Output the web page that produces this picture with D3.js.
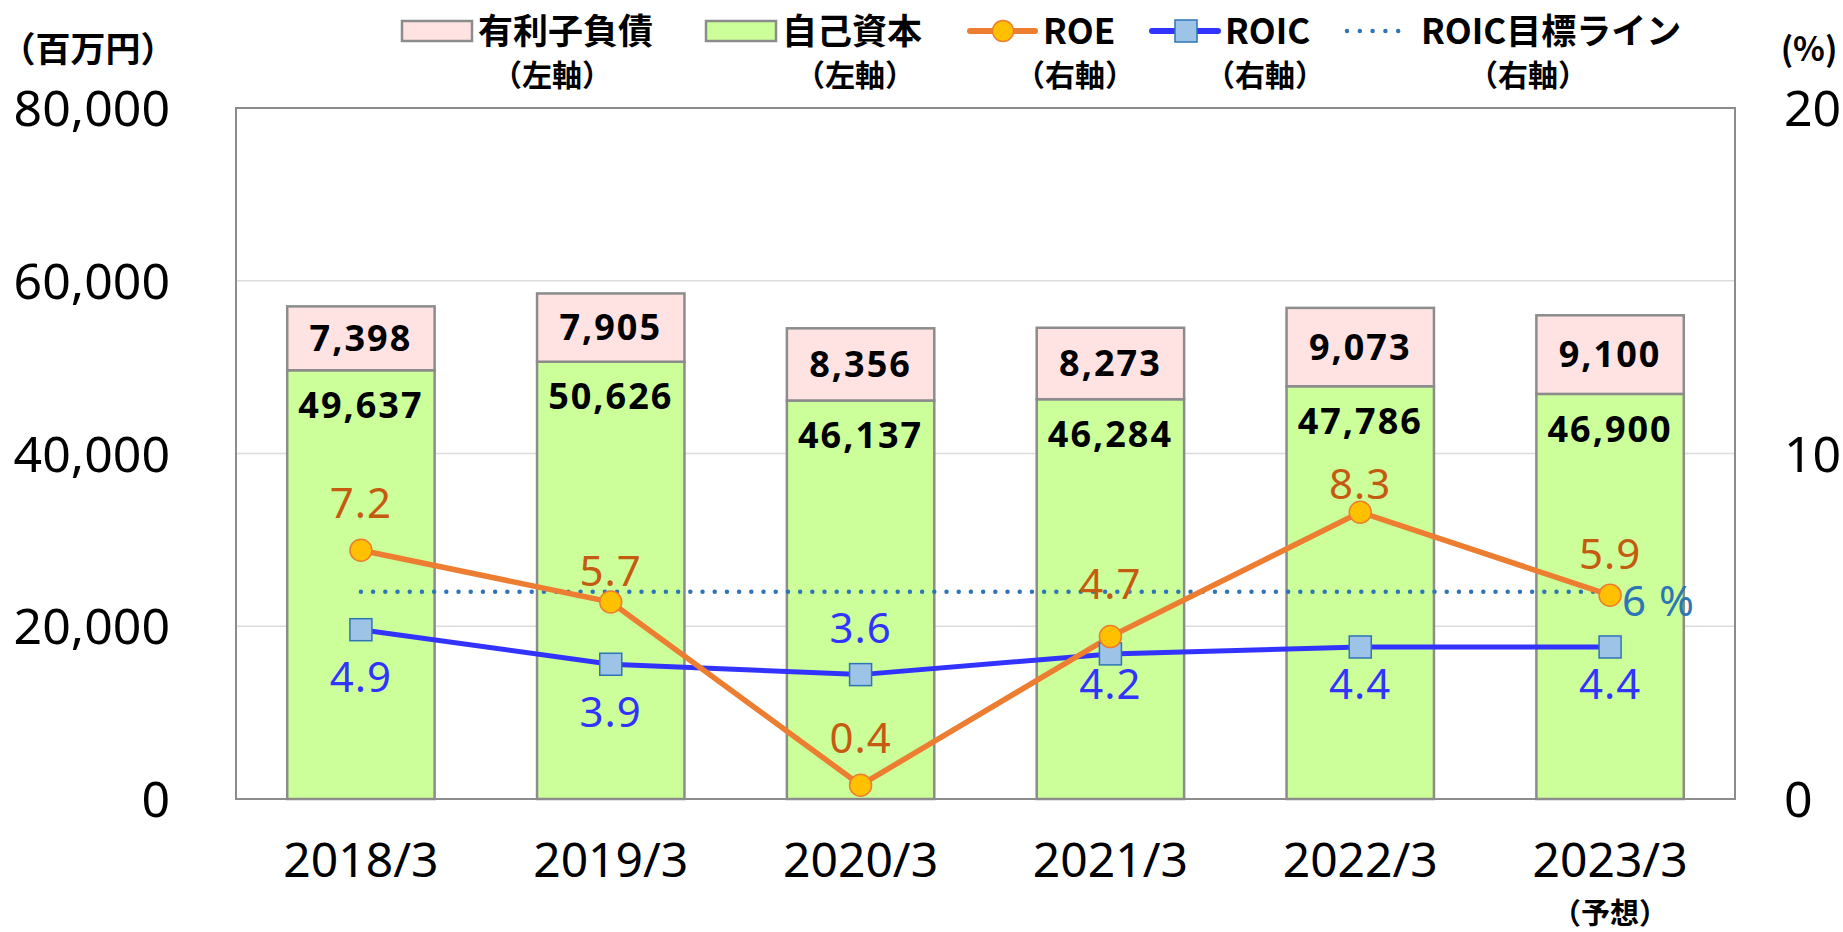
<!DOCTYPE html>
<html lang="ja">
<head>
<meta charset="utf-8">
<script src="https://cdn.jsdelivr.net/npm/d3@7"></script>
<style>
  html, body { margin: 0; padding: 0; background: #fff; }
  svg { display: block; }
  text { font-family: "Noto Sans", "Noto Sans CJK JP", sans-serif; }
  .jp { font-family: "Noto Sans CJK JP", sans-serif; font-weight: 700; }
</style>
</head>
<body>
<div id="chart"></div>
<script>
// Data
const years = ["2018/3", "2019/3", "2020/3", "2021/3", "2022/3", "2023/3"];
const equity = [49637, 50626, 46137, 46284, 47786, 46900];   // 自己資本
const debt = [7398, 7905, 8356, 8273, 9073, 9100];           // 有利子負債
const roe = [7.2, 5.7, 0.4, 4.7, 8.3, 5.9];
const roic = [4.9, 3.9, 3.6, 4.2, 4.4, 4.4];
const roicTarget = 6;
const leftTicks = [0, 20000, 40000, 60000, 80000];
const rightTicks = [0, 10, 20];

// Layout
const W = 1843, H = 932;
const PLOT = { left: 236, right: 1735, top: 108, bottom: 799 };
// label nudges (px, label centre relative to marker)
const ROE_DY = [-47, -31, -47, -52, -28, -41];
const ROIC_DY = [48, 48, -46, 30, 37, 37];

const C = {
  debt: "#FFE3E3", equity: "#CCFF99", border: "#8C8C8C", grid: "#DCDCDC",
  roe: "#ED7D31", roeMarker: "#FFC000", roeLabel: "#C55A11",
  roic: "#3333FF", roicMarker: "#9DC3E6", roicEdge: "#2E75B6", target: "#2E75B6"
};

const svg = d3.select("#chart").append("svg")
  .attr("width", W).attr("height", H)
  .attr("viewBox", `0 0 ${W} ${H}`);

const x = d3.scaleBand().domain(years).range([PLOT.left, PLOT.right]).paddingInner(0.41).paddingOuter(0.205);
const yL = d3.scaleLinear().domain([0, 80000]).range([PLOT.bottom, PLOT.top]);
const yR = d3.scaleLinear().domain([0, 20]).range([PLOT.bottom, PLOT.top]);
const cx = d => x(d) + x.bandwidth() / 2;
const fmt = d3.format(",");

// gridlines
svg.append("g")
  .selectAll("line")
  .data(leftTicks.filter(t => t > 0 && t < 80000))
  .join("line")
  .attr("x1", PLOT.left).attr("x2", PLOT.right)
  .attr("y1", d => yL(d)).attr("y2", d => yL(d))
  .attr("stroke", C.grid).attr("stroke-width", 1.5);

// left axis
const leftAxis = svg.append("g")
  .attr("transform", `translate(${PLOT.left - 66},0)`)
  .call(d3.axisLeft(yL).tickValues(leftTicks).tickFormat(fmt).tickSize(0).tickPadding(0))
  .call(g => g.select(".domain").remove());
leftAxis.selectAll("text")
  .attr("font-family", "Noto Sans").attr("font-size", 50).attr("fill", "#000")
  .attr("dy", "0.35em");

// right axis
const rightAxis = svg.append("g")
  .attr("transform", `translate(${PLOT.right + 49},0)`)
  .call(d3.axisRight(yR).tickValues(rightTicks).tickSize(0).tickPadding(0))
  .call(g => g.select(".domain").remove());
rightAxis.selectAll("text")
  .attr("font-family", "Noto Sans").attr("font-size", 50).attr("fill", "#000")
  .attr("dy", "0.35em");

// x axis labels
const xAxis = svg.append("g")
  .attr("transform", `translate(0,${PLOT.bottom + 61})`)
  .call(d3.axisBottom(x).tickSize(0).tickPadding(0))
  .call(g => g.select(".domain").remove());
xAxis.selectAll("text")
  .attr("font-family", "Noto Sans").attr("font-size", 48).attr("fill", "#000")
  .attr("dy", "0.35em");
svg.append("text").attr("class", "jp")
  .attr("x", cx(years[5])).attr("y", 914).attr("dy", "0.36em")
  .attr("text-anchor", "middle").attr("font-size", 29)
  .text("（予想）");

// axis units
svg.append("text").attr("class", "jp")
  .attr("x", 88).attr("y", 49).attr("dy", "0.36em")
  .attr("text-anchor", "middle").attr("font-size", 35)
  .text("（百万円）");
svg.append("text").attr("class", "jp")
  .attr("x", 1809).attr("y", 49).attr("dy", "0.36em")
  .attr("text-anchor", "middle").attr("font-size", 33)
  .text("(%)");

// stacked bars
const rows = years.map((y, i) => ({ year: y, equity: equity[i], debt: debt[i] }));
const stacked = d3.stack().keys(["equity", "debt"])(rows);

svg.append("g")
  .selectAll("g")
  .data(stacked)
  .join("g")
  .attr("fill", d => C[d.key])
  .selectAll("rect")
  .data(d => d)
  .join("rect")
  .attr("x", d => x(d.data.year))
  .attr("width", x.bandwidth())
  .attr("y", d => yL(d[1]))
  .attr("height", d => yL(d[0]) - yL(d[1]))
  .attr("stroke", C.border).attr("stroke-width", 2.5);

// bar labels
svg.append("g")
  .selectAll("text")
  .data(rows)
  .join("text")
  .attr("x", d => cx(d.year))
  .attr("y", d => (yL(d.equity) + yL(d.equity + d.debt)) / 2)
  .attr("dy", "0.35em")
  .attr("text-anchor", "middle")
  .attr("font-size", 36).attr("font-weight", 700).attr("letter-spacing", 2)
  .text(d => fmt(d.debt));

svg.append("g")
  .selectAll("text")
  .data(rows)
  .join("text")
  .attr("x", d => cx(d.year))
  .attr("y", d => yL(d.equity) + 35)
  .attr("dy", "0.35em")
  .attr("text-anchor", "middle")
  .attr("font-size", 36).attr("font-weight", 700).attr("letter-spacing", 2)
  .text(d => fmt(d.equity));

// plot frame
svg.append("rect")
  .attr("x", PLOT.left).attr("y", PLOT.top)
  .attr("width", PLOT.right - PLOT.left).attr("height", PLOT.bottom - PLOT.top)
  .attr("fill", "none").attr("stroke", C.border).attr("stroke-width", 2);

// ROIC target line
svg.append("line")
  .attr("x1", cx(years[0])).attr("x2", cx(years[5]))
  .attr("y1", yR(roicTarget)).attr("y2", yR(roicTarget))
  .attr("stroke", C.target).attr("stroke-width", 4.5)
  .attr("stroke-linecap", "round").attr("stroke-dasharray", "0 12.2");
svg.append("text")
  .attr("x", cx(years[5]) + 12).attr("y", yR(roicTarget) + 10).attr("dy", "0.35em")
  .attr("font-size", 42).attr("fill", C.target).attr("letter-spacing", 1)
  .text(roicTarget + " %");

// ROIC line
const roicPts = years.map((y, i) => ({ year: y, v: roic[i], dy: ROIC_DY[i] }));
const roePts = years.map((y, i) => ({ year: y, v: roe[i], dy: ROE_DY[i] }));

svg.append("path")
  .datum(roicPts)
  .attr("fill", "none").attr("stroke", C.roic).attr("stroke-width", 5)
  .attr("d", d3.line().x(d => cx(d.year)).y(d => yR(d.v)));

// ROE line
svg.append("path")
  .datum(roePts)
  .attr("fill", "none").attr("stroke", C.roe).attr("stroke-width", 5.5)
  .attr("d", d3.line().x(d => cx(d.year)).y(d => yR(d.v)));

svg.append("g")
  .selectAll("rect")
  .data(roicPts)
  .join("rect")
  .attr("x", d => cx(d.year) - 11).attr("y", d => yR(d.v) - 11)
  .attr("width", 22).attr("height", 22)
  .attr("fill", C.roicMarker).attr("stroke", C.roicEdge).attr("stroke-width", 1.5);

svg.append("g")
  .selectAll("circle")
  .data(roePts)
  .join("circle")
  .attr("cx", d => cx(d.year)).attr("cy", d => yR(d.v)).attr("r", 11)
  .attr("fill", C.roeMarker).attr("stroke", C.roe).attr("stroke-width", 1.5);

// line labels
svg.append("g")
  .selectAll("text")
  .data(roePts)
  .join("text")
  .attr("x", d => cx(d.year)).attr("y", d => yR(d.v) + d.dy).attr("dy", "0.35em")
  .attr("text-anchor", "middle").attr("font-size", 42).attr("letter-spacing", 1)
  .attr("fill", C.roeLabel)
  .text(d => d.v.toFixed(1));

svg.append("g")
  .selectAll("text")
  .data(roicPts)
  .join("text")
  .attr("x", d => cx(d.year)).attr("y", d => yR(d.v) + d.dy).attr("dy", "0.35em")
  .attr("text-anchor", "middle").attr("font-size", 42).attr("letter-spacing", 1)
  .attr("fill", C.roic)
  .text(d => d.v.toFixed(1));

// Legend
const legendItems = [
  { name: "有利子負債", sub: "（左軸）", type: "box", fill: C.debt, x: 402, subX: 552 },
  { name: "自己資本", sub: "（左軸）", type: "box", fill: C.equity, x: 706, subX: 855 },
  { name: "ROE", sub: "（右軸）", type: "circle", x: 967, subX: 1075 },
  { name: "ROIC", sub: "（右軸）", type: "square", x: 1149, subX: 1265 },
  { name: "ROIC目標ライン", sub: "（右軸）", type: "dots", x: 1345, subX: 1528 }
];
const LEG_Y = 31, SUB_Y = 75;

const leg = svg.append("g")
  .selectAll("g")
  .data(legendItems)
  .join("g")
  .attr("transform", d => `translate(${d.x},0)`);

leg.filter(d => d.type === "box").append("rect")
  .attr("x", 0).attr("y", LEG_Y - 10).attr("width", 70).attr("height", 20)
  .attr("fill", d => d.fill).attr("stroke", C.border).attr("stroke-width", 2.5);

leg.filter(d => d.type === "circle").call(g => {
  g.append("line").attr("x1", 3).attr("x2", 68).attr("y1", LEG_Y).attr("y2", LEG_Y)
    .attr("stroke", C.roe).attr("stroke-width", 6).attr("stroke-linecap", "round");
  g.append("circle").attr("cx", 36).attr("cy", LEG_Y).attr("r", 10.5)
    .attr("fill", C.roeMarker).attr("stroke", C.roe).attr("stroke-width", 1.5);
});

leg.filter(d => d.type === "square").call(g => {
  g.append("line").attr("x1", 3).attr("x2", 69).attr("y1", LEG_Y).attr("y2", LEG_Y)
    .attr("stroke", C.roic).attr("stroke-width", 6).attr("stroke-linecap", "round");
  g.append("rect").attr("x", 26).attr("y", LEG_Y - 11).attr("width", 22).attr("height", 22)
    .attr("fill", C.roicMarker).attr("stroke", C.roicEdge).attr("stroke-width", 1.5);
});

leg.filter(d => d.type === "dots").append("line")
  .attr("x1", 2).attr("x2", 66).attr("y1", LEG_Y).attr("y2", LEG_Y)
  .attr("stroke", C.target).attr("stroke-width", 4.5)
  .attr("stroke-linecap", "round").attr("stroke-dasharray", "0 12.8");

leg.append("text").attr("class", "jp")
  .attr("x", 76)
  .attr("y", LEG_Y).attr("dy", "0.36em")
  .attr("font-size", 35)
  .text(d => d.name);

leg.append("text").attr("class", "jp")
  .attr("x", d => d.subX - d.x).attr("y", SUB_Y).attr("dy", "0.36em")
  .attr("text-anchor", "middle").attr("font-size", 30)
  .text(d => d.sub);
</script>
</body>
</html>
